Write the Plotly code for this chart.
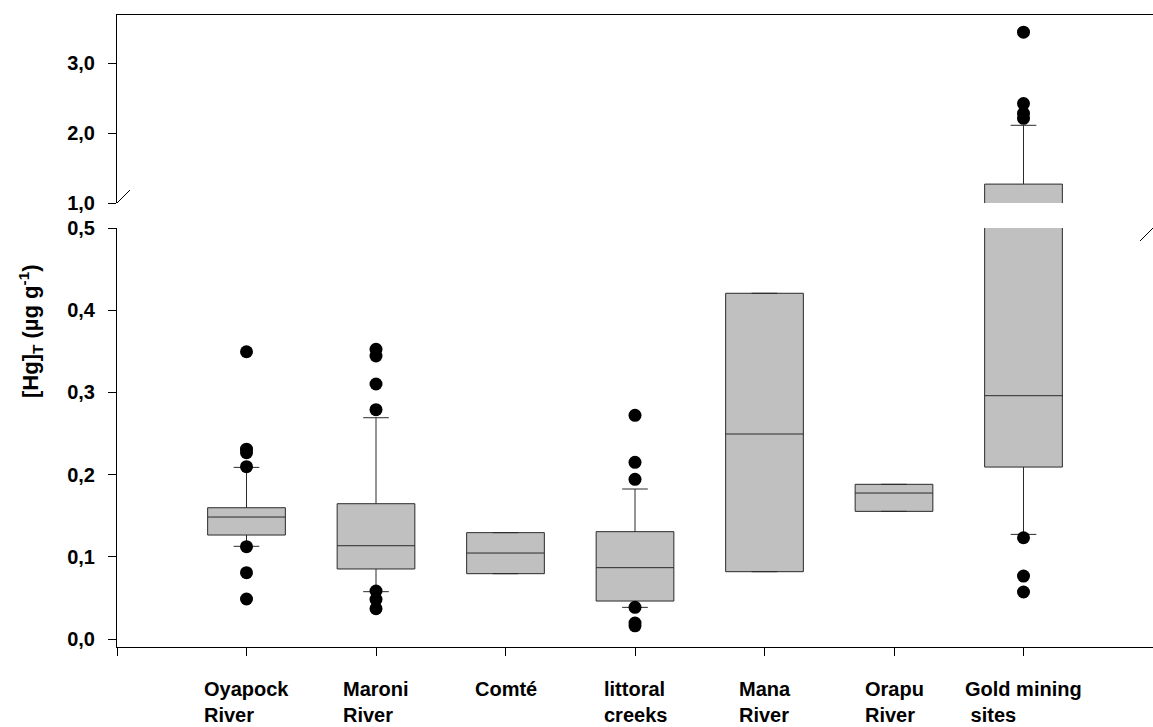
import plotly.graph_objects as go

categories = ["Oyapock<br>River", "Maroni<br>River", "Comté", "littoral<br>creeks",
              "Mana<br>River", "Orapu<br>River", "Gold mining<br>&nbsp;sites"]
positions = [1, 2, 3, 4, 5, 6, 7]

q1 = [0.1265, 0.0852, 0.0795, 0.0462, 0.0819, 0.1553, 0.2092]
median = [0.1484, 0.1135, 0.1046, 0.0868, 0.2494, 0.1776, 0.2960]
q3 = [0.1597, 0.1646, 0.1294, 0.1306, 0.4206, 0.1882, 1.27]
lower_whisker = [0.1128, 0.0576, 0.0795, 0.0385, 0.0819, 0.1553, 0.1273]
upper_whisker = [0.2088, 0.2692, 0.1294, 0.1825, 0.4206, 0.1882, 2.11]

outliers = [
    [0.3495, 0.2310, 0.2267, 0.2097, 0.1123, 0.0807, 0.0487],
    [0.3524, 0.3443, 0.3102, 0.2790, 0.0584, 0.0483, 0.0369],
    [],
    [0.2721, 0.2150, 0.1943, 0.0385, 0.0195, 0.0160],
    [],
    [],
    [3.44, 2.42, 2.28, 2.21, 0.1232, 0.0766, 0.0572],
]

lower_ticks = [0.0, 0.1, 0.2, 0.3, 0.4, 0.5]
upper_ticks = [1.0, 2.0, 3.0]

X_MAX = 8
x_ticks = [0, 1, 2, 3, 4, 5, 6, 7, 8]

def fmt(v):
    return f"{v:.1f}".replace(".", ",")

FONT = "Liberation Sans, Arial, sans-serif"

fig = go.Figure()

for xa, ya in [("x", "y"), ("x2", "y2")]:
    for i in range(len(positions)):
        fig.add_trace(go.Box(
            x=[positions[i]], q1=[q1[i]], median=[median[i]], q3=[q3[i]],
            lowerfence=[lower_whisker[i]], upperfence=[upper_whisker[i]],
            boxpoints=False, width=0.6, whiskerwidth=0.33,
            fillcolor="#c0c0c0", line=dict(color="#2a2a2a", width=1),
            xaxis=xa, yaxis=ya, showlegend=False, hoverinfo="skip"))
    for i in range(len(positions)):
        if outliers[i]:
            fig.add_trace(go.Scatter(
                x=[positions[i]] * len(outliers[i]), y=outliers[i], mode="markers",
                marker=dict(color="black", size=13, symbol="circle"),
                xaxis=xa, yaxis=ya, showlegend=False, hoverinfo="skip"))

fig.update_layout(
    width=1153, height=727,
    margin=dict(l=117, r=0, t=15, b=80),
    paper_bgcolor="white", plot_bgcolor="white",
    font=dict(family=FONT, size=20, color="black"),
    xaxis=dict(domain=[0, 1], range=[0, X_MAX], anchor="y",
               tickvals=x_ticks, showticklabels=False,
               ticks="outside", ticklen=8, tickcolor="black",
               showline=True, linecolor="black", linewidth=1,
               showgrid=False, zeroline=False),
    xaxis2=dict(domain=[0, 1], range=[0, X_MAX], anchor="y2", matches="x",
                side="top", showline=True, linecolor="black", linewidth=1,
                ticks="", showticklabels=False, showgrid=False, zeroline=False),
    yaxis=dict(domain=[0, 0.66297], range=[-0.0097, 0.5], anchor="x",
               tickvals=lower_ticks, ticktext=[f"<b>{fmt(v)}</b>" for v in lower_ticks],
               ticks="outside", ticklen=8, tickcolor="black", ticklabelstandoff=9,
               showline=True, linecolor="black", linewidth=1,
               showgrid=False, zeroline=False),
    yaxis2=dict(domain=[0.70253, 1], range=[1.0, 3.686], anchor="x2",
                tickvals=upper_ticks, ticktext=[f"<b>{fmt(v)}</b>" for v in upper_ticks],
                ticks="outside", ticklen=8, tickcolor="black", ticklabelstandoff=9,
                showline=True, linecolor="black", linewidth=1,
                showgrid=False, zeroline=False),
)

# category labels (left-aligned lines, centred block)
for p, c in zip(positions, categories):
    fig.add_annotation(x=p, xref="x", y=0, yref="paper", yanchor="top", yshift=-29,
                       xanchor="center", align="left", showarrow=False,
                       text=f"<b>{c}</b>", font=dict(family=FONT, size=20, color="black"))

# y-axis title
fig.add_annotation(x=0, xref="paper", xshift=-87, y=0.5, yref="paper",
                   textangle=-90, showarrow=False, xanchor="center", yanchor="middle",
                   text="<b>[Hg]<sub>T</sub> (µg g<sup>-1</sup>)</b>",
                   font=dict(family=FONT, size=22, color="black"))

# axis-break slashes
for xv in [0, X_MAX]:
    for yref, yv in [("y", 0.5), ("y2", 1.0)]:
        fig.add_shape(type="line", xref="x", yref=yref,
                      xsizemode="pixel", ysizemode="pixel",
                      xanchor=xv, yanchor=yv,
                      x0=-13, x1=13, y0=-13, y1=13,
                      line=dict(color="black", width=1))

fig.write_html("out.html", config={"displayModeBar": False},
               post_script="document.body.style.margin='0';document.body.style.overflow='hidden';")
